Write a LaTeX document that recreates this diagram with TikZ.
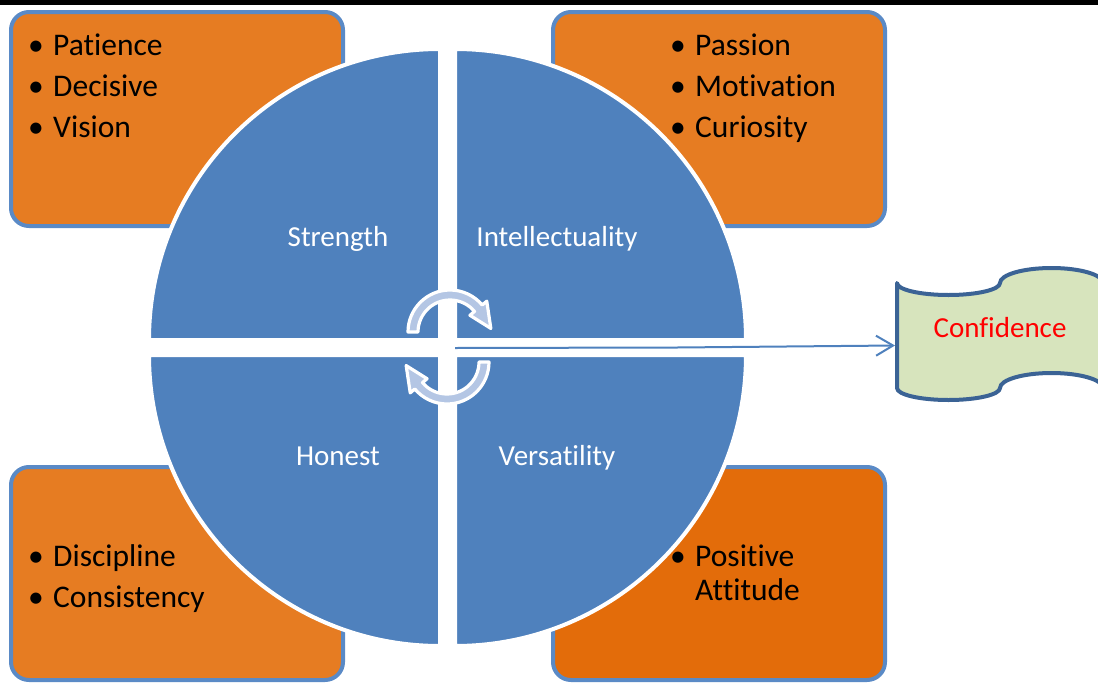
\documentclass[tikz,border=0pt]{standalone}
\usepackage{fontspec}
\setmainfont{Carlito}[Ligatures=NoCommon]
\usetikzlibrary{arrows.meta}
\definecolor{quarterblue}{HTML}{4F81BD}
\definecolor{boxborder}{HTML}{5A8AC6}
\definecolor{boxorange}{HTML}{E67C22}
\definecolor{boxorangedark}{HTML}{E36C0A}
\definecolor{flagfill}{HTML}{D7E4BD}
\definecolor{flagborder}{HTML}{3B6395}
\definecolor{cyclefill}{HTML}{B4C6E4}
\begin{document}
\begin{tikzpicture}[x=1pt,y=1pt,
  box/.style={draw=boxborder,line width=4pt,rounded corners=18pt,inner sep=0pt},
  quarter/.style={fill=quarterblue,draw=white,line width=4pt},
  qlabel/.style={text=white,font=\fontsize{29}{35}\selectfont,anchor=base,inner sep=0pt},
  bulletmark/.style={font=\fontsize{31.5}{38}\selectfont,anchor=base,inner sep=0pt},
  itemtext/.style={font=\fontsize{31.5}{38}\selectfont,anchor=base west,inner sep=0pt},
  cyc/.style={fill=cyclefill,draw=white,line width=3.2pt,line join=round},
  link/.style={draw=quarterblue,line width=2pt,-{Straight Barb[length=17pt,width=20pt]}}]
\useasboundingbox (0,0) rectangle (1098,-683);
\clip (0,0) rectangle (1098,-683);
\fill[black] (0,0) rectangle (1098,-4.5);

% boxes
\node[box,fill=boxorange,minimum width=332pt,minimum height=214pt] (tlbox) at (177,-119) {};
\node[box,fill=boxorange,minimum width=332pt,minimum height=214pt] (trbox) at (719,-119) {};
\node[box,fill=boxorange,minimum width=332pt,minimum height=213pt] (blbox) at (177,-573.5) {};
\node[box,fill=boxorangedark,minimum width=332pt,minimum height=213pt] (brbox) at (719,-573.5) {};

% box texts
\node[bulletmark] (b1) at (36,-55) {•};
\node[itemtext] (t1) at (53,-55) {Patience};
\node[bulletmark] (b2) at (36,-96) {•};
\node[itemtext] (t2) at (53,-96) {Decisive};
\node[bulletmark] (b3) at (36,-137) {•};
\node[itemtext] (t3) at (53,-137) {Vision};

\node[bulletmark] (b4) at (678,-55) {•};
\node[itemtext] (t4) at (695,-55) {Passion};
\node[bulletmark] (b5) at (678,-96) {•};
\node[itemtext] (t5) at (695,-96) {Motivation};
\node[bulletmark] (b6) at (678,-137) {•};
\node[itemtext] (t6) at (695,-137) {Curiosity};

% circle quarters
\filldraw[quarter] (440,-340) -- ++(-291,0) arc[start angle=180,end angle=90,radius=291] -- cycle;
\filldraw[quarter] (455,-340) -- ++(291,0) arc[start angle=0,end angle=90,radius=291] -- cycle;
\filldraw[quarter] (440,-355) -- ++(-291,0) arc[start angle=180,end angle=270,radius=291] -- cycle;
\filldraw[quarter] (455,-355) -- ++(291,0) arc[start angle=0,end angle=-90,radius=291] -- cycle;

\node[bulletmark] (b7) at (36,-566) {•};
\node[itemtext] (t7) at (53,-566) {Discipline};
\node[bulletmark] (b8) at (36,-607) {•};
\node[itemtext] (t8) at (53,-607) {Consistency};

\node[bulletmark] (b9) at (678,-566) {•};
\node[itemtext] (t9) at (695,-566) {Positive};
\node[itemtext] (t10) at (695,-600) {Attitude};

\node[qlabel] (strength) at (338,-246) {Strength};
\node[qlabel] (intel) at (557,-246) {Intellectuality};
\node[qlabel] (honest) at (338,-465) {Honest};
\node[qlabel] (versa) at (557,-465) {Versatility};

% cycle arrows
\path[cyc,shift={(450,-332)}] (180:42) arc[start angle=180,end angle=40,radius=42]
  -- (40:48) -- (5:41) -- (40:26) -- (40:32) arc[start angle=40,end angle=180,radius=32] -- cycle;
\path[cyc,shift={(447,-362)}] (360:42) arc[start angle=360,end angle=220,radius=42]
  -- (220:48) -- (185:41) -- (220:26) -- (220:32) arc[start angle=220,end angle=360,radius=32] -- cycle;

% flag
\draw[fill=flagfill,draw=flagborder,line width=4pt,line join=round]
  (897,-283) arc[start angle=180,end angle=360,x radius=51.5,y radius=12]
  arc[start angle=180,end angle=0,x radius=51.5,y radius=15]
  -- (1103,-388)
  arc[start angle=0,end angle=180,x radius=51.5,y radius=15]
  arc[start angle=360,end angle=180,x radius=51.5,y radius=12]
  -- cycle;
\node[text=red,font=\fontsize{29}{35}\selectfont,anchor=base,inner sep=0pt] (conf) at (1000,-337) {Confidence};

% connector
\coordinate (hub) at (455,-348);
\coordinate (bend) at (677,-347.5);
\coordinate (flagin) at (895,-345.5);
\draw[link] (hub) -- (bend) -- (flagin);
\end{tikzpicture}
\end{document}
